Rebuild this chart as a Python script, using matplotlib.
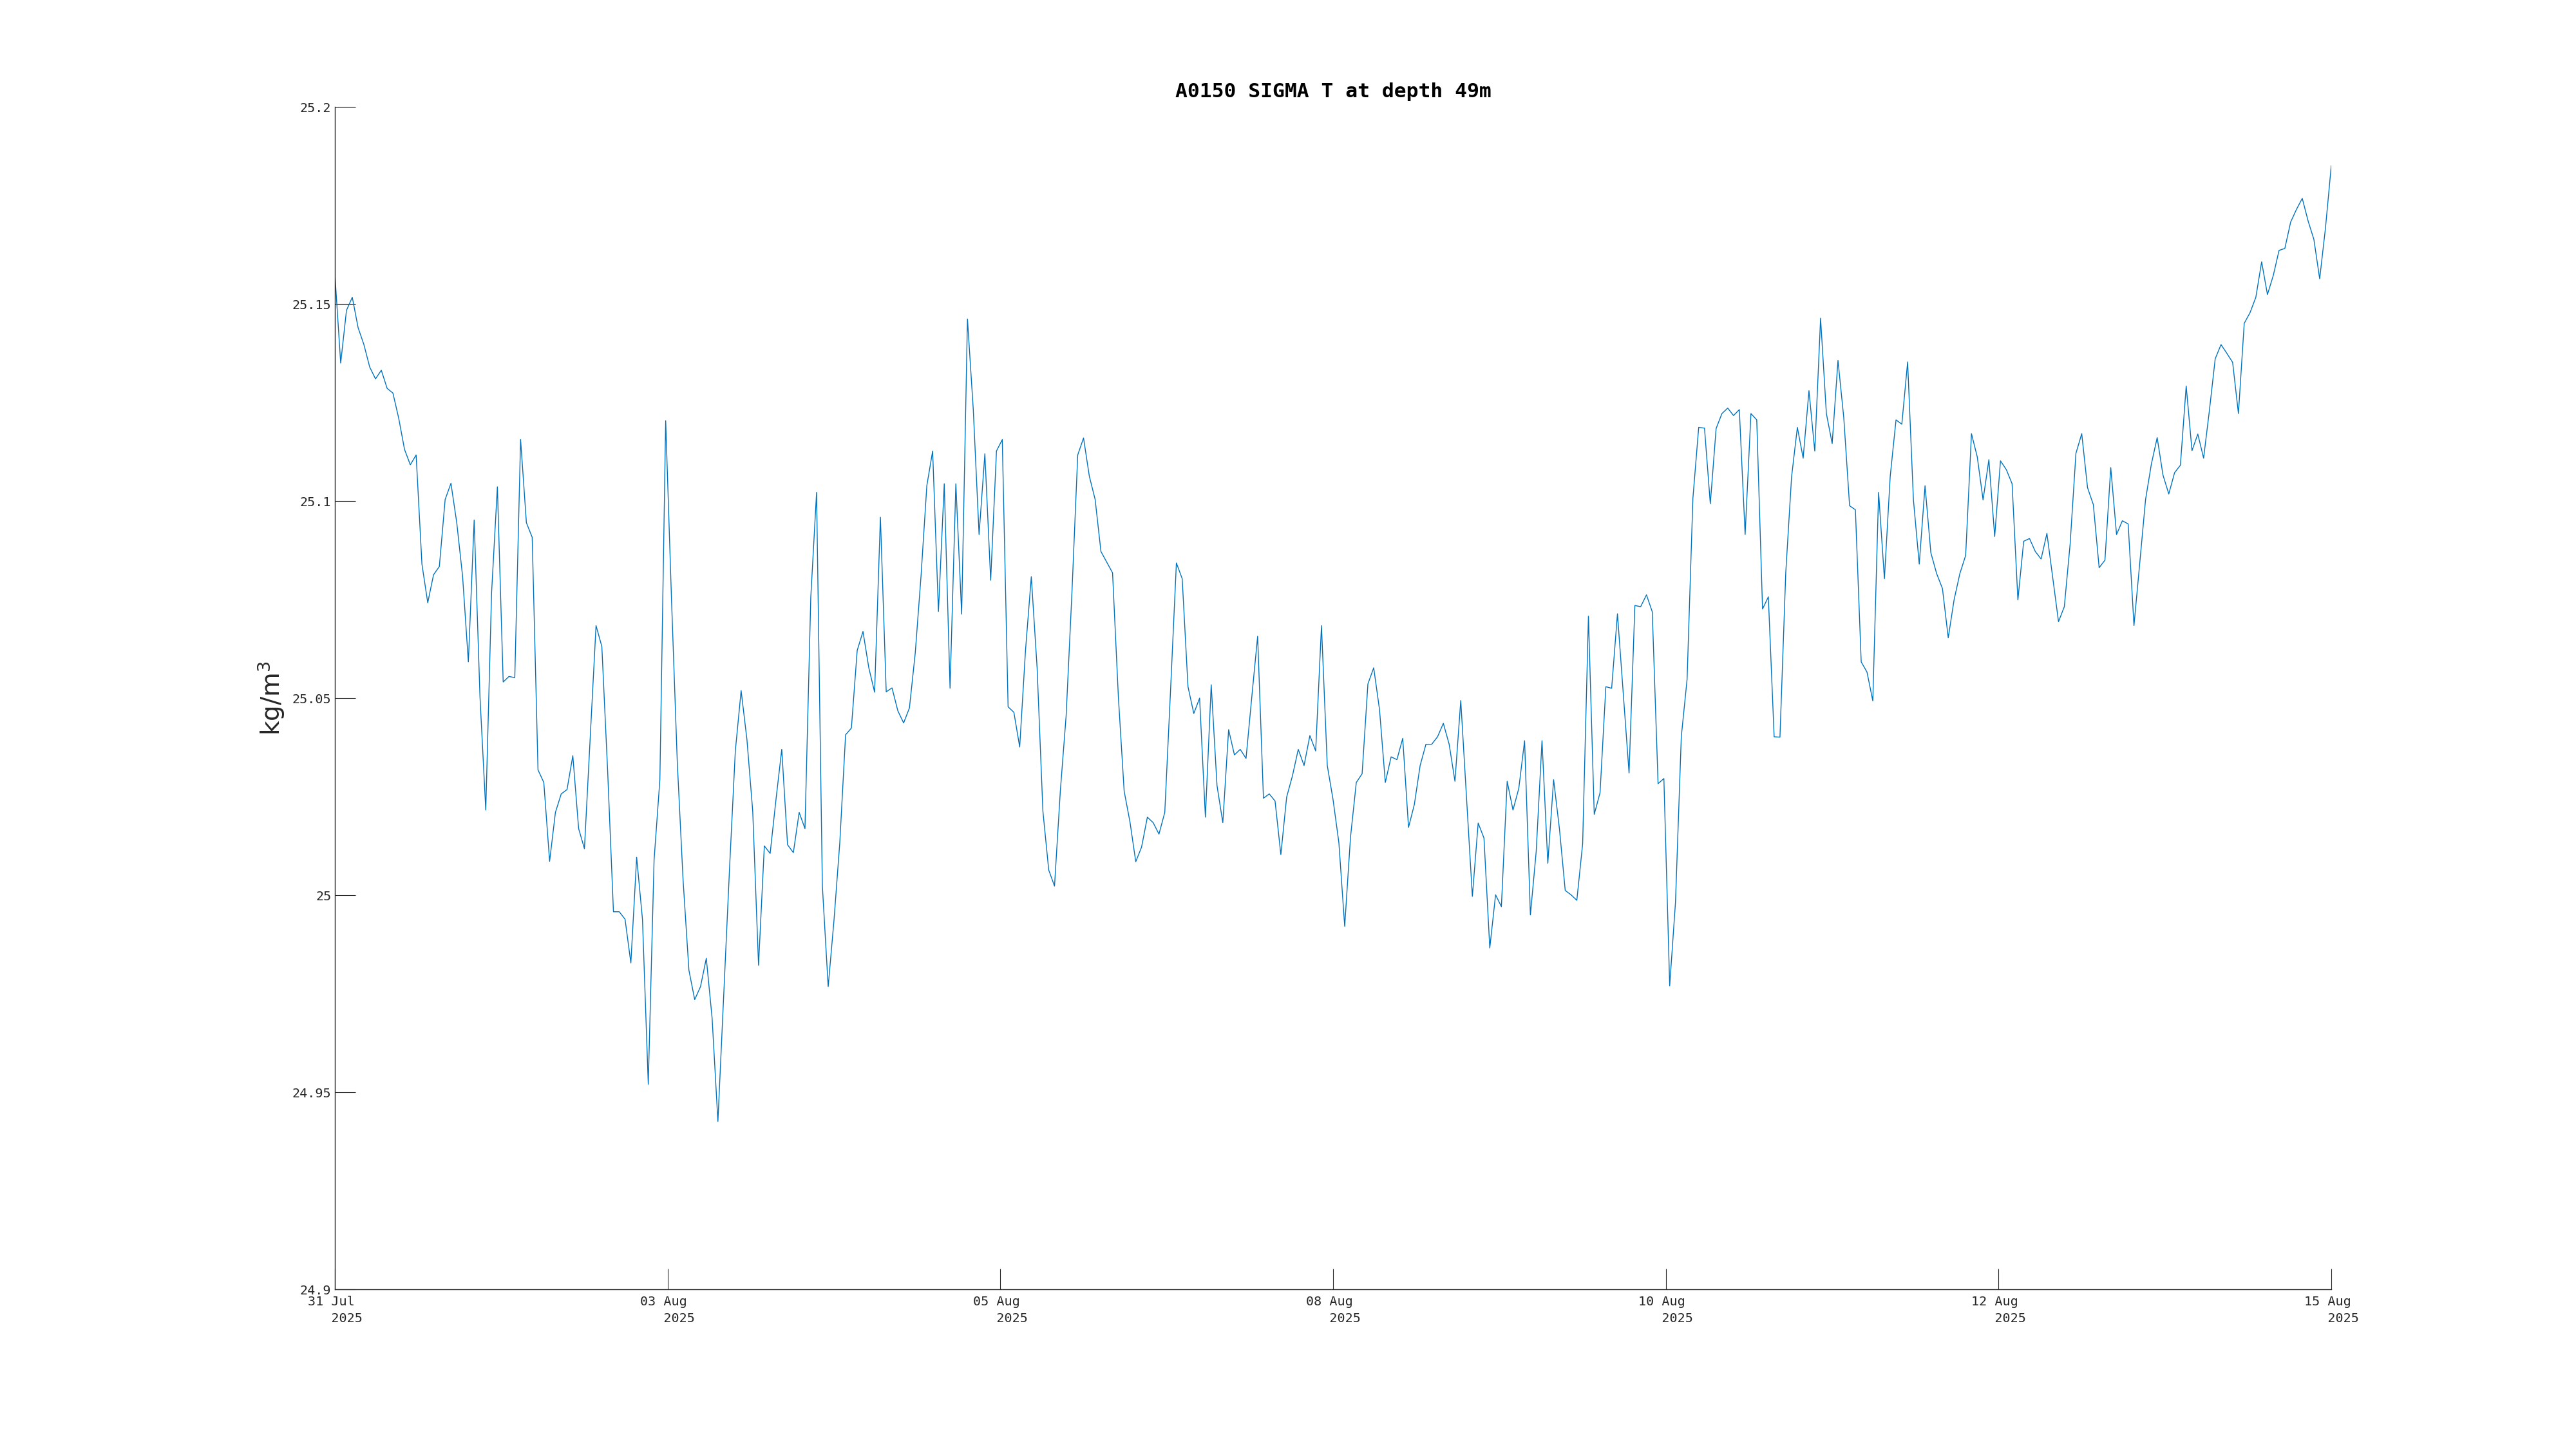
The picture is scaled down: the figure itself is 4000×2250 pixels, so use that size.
import matplotlib
matplotlib.use("Agg")
import matplotlib.pyplot as plt
import matplotlib.dates as mdates
import numpy as np
import pandas as pd

# hourly sigma-t values
sigma_t = [
    25.1576, 25.1350, 25.1484, 25.1517, 25.1440, 25.1397, 25.1340, 25.1310, 25.1332, 25.1286,
    25.1274, 25.1210, 25.1131, 25.1092, 25.1117, 25.0840, 25.0742, 25.0813, 25.0834, 25.1004,
    25.1045, 25.0945, 25.0810, 25.0592, 25.0952, 25.0504, 25.0216, 25.0767, 25.1036, 25.0541,
    25.0555, 25.0552, 25.1156, 25.0945, 25.0908, 25.0318, 25.0286, 25.0086, 25.0210, 25.0257,
    25.0268, 25.0354, 25.0169, 25.0118, 25.0402, 25.0684, 25.0631, 25.0315, 24.9958, 24.9958,
    24.9939, 24.9828, 25.0096, 24.9939, 24.9520, 25.0089, 25.0293, 25.1204, 25.0752, 25.0337,
    25.0038, 24.9810, 24.9735, 24.9768, 24.9840, 24.9688, 24.9426, 24.9746, 25.0067, 25.0366,
    25.0519, 25.0395, 25.0213, 24.9822, 25.0125, 25.0106, 25.0242, 25.0370, 25.0128, 25.0108,
    25.0210, 25.0169, 25.0755, 25.1022, 25.0023, 24.9768, 24.9936, 25.0133, 25.0407, 25.0424,
    25.0621, 25.0669, 25.0577, 25.0515, 25.0959, 25.0516, 25.0526, 25.0468, 25.0437, 25.0475,
    25.0614, 25.0810, 25.1039, 25.1127, 25.0720, 25.1044, 25.0525, 25.1044, 25.0713, 25.1462,
    25.1233, 25.0915, 25.1120, 25.0799, 25.1127, 25.1156, 25.0478, 25.0464, 25.0376, 25.0621,
    25.0808, 25.0577, 25.0213, 25.0064, 25.0023, 25.0264, 25.0455, 25.0767, 25.1117, 25.1160,
    25.1063, 25.1004, 25.0872, 25.0845, 25.0818, 25.0504, 25.0264, 25.0186, 25.0085, 25.0122,
    25.0198, 25.0184, 25.0155, 25.0210, 25.0522, 25.0843, 25.0803, 25.0529, 25.0461, 25.0500,
    25.0198, 25.0534, 25.0278, 25.0184, 25.0420, 25.0356, 25.0370, 25.0347, 25.0504, 25.0657,
    25.0246, 25.0257, 25.0239, 25.0103, 25.0249, 25.0303, 25.0370, 25.0329, 25.0405, 25.0366,
    25.0684, 25.0329, 25.0242, 25.0133, 24.9921, 25.0147, 25.0286, 25.0308, 25.0536, 25.0577,
    25.0471, 25.0286, 25.0351, 25.0344, 25.0398, 25.0172, 25.0230, 25.0329, 25.0383, 25.0383,
    25.0402, 25.0436, 25.0383, 25.0289, 25.0494, 25.0245, 24.9997, 25.0183, 25.0145, 24.9866,
    25.0001, 24.9971, 25.0289, 25.0216, 25.0271, 25.0392, 24.9950, 25.0111, 25.0392, 25.0081,
    25.0293, 25.0169, 25.0012, 25.0001, 24.9987, 25.0130, 25.0708, 25.0205, 25.0260, 25.0529,
    25.0525, 25.0714, 25.0512, 25.0310, 25.0735, 25.0732, 25.0762, 25.0719, 25.0283, 25.0296,
    24.9770, 24.9982, 25.0402, 25.0548, 25.1007, 25.1187, 25.1185, 25.0993, 25.1184, 25.1222,
    25.1236, 25.1217, 25.1232, 25.0915, 25.1222, 25.1206, 25.0726, 25.0757, 25.0402, 25.0401,
    25.0818, 25.1061, 25.1187, 25.1109, 25.1280, 25.1127, 25.1464, 25.1222, 25.1146, 25.1357,
    25.1211, 25.0988, 25.0978, 25.0592, 25.0566, 25.0493, 25.1022, 25.0803, 25.1063, 25.1206,
    25.1195, 25.1353, 25.1003, 25.0840, 25.1039, 25.0869, 25.0816, 25.0778, 25.0653, 25.0749,
    25.0816, 25.0862, 25.1171, 25.1112, 25.1003, 25.1105, 25.0910, 25.1102, 25.1080, 25.1044,
    25.0749, 25.0898, 25.0905, 25.0872, 25.0853, 25.0918, 25.0806, 25.0694, 25.0732, 25.0891,
    25.1121, 25.1171, 25.1034, 25.0991, 25.0831, 25.0850, 25.1085, 25.0915, 25.0950, 25.0942,
    25.0684, 25.0843, 25.1004, 25.1094, 25.1161, 25.1066, 25.1018, 25.1072, 25.1091, 25.1292,
    25.1128, 25.1170, 25.1109, 25.1230, 25.1361, 25.1397, 25.1375, 25.1352, 25.1222, 25.1451,
    25.1478, 25.1517, 25.1607, 25.1524, 25.1572, 25.1636, 25.1641, 25.1708, 25.1740, 25.1768,
    25.1711, 25.1664, 25.1564, 25.1693, 25.1851,
]

start_time = "2025-07-31 10:00"
tick_days = ["31 Jul", "03 Aug", "05 Aug", "08 Aug", "10 Aug", "12 Aug", "15 Aug"]
tick_year = "2025"
ytick_vals = [24.9, 24.95, 25.0, 25.05, 25.1, 25.15, 25.2]
ytick_labels = ["24.9", "24.95", "25", "25.05", "25.1", "25.15", "25.2"]

times = pd.date_range(start_time, periods=len(sigma_t), freq="h")

axcol = "#262626"
mono = "DejaVu Sans Mono"

fig = plt.figure(figsize=(40, 22.5), dpi=100)
ax = fig.add_axes([0.13, 0.1102, 0.775, 0.8160])

ax.plot(times, sigma_t, color="#0072BD", linewidth=1.0)

ax.set_xlim(times[0], times[-1])
ax.set_ylim(24.9, 25.2)

t0 = mdates.date2num(times[0])
t1 = mdates.date2num(times[-1])
xticks = np.linspace(t0, t1, len(tick_days))
xlabels = [d + "\n   " + tick_year for d in tick_days]
ax.set_xticks(xticks)
ax.set_xticklabels(xlabels, fontfamily=mono, fontsize=14.5, color=axcol,
                   linespacing=1.45, multialignment="left")
ax.set_yticks(ytick_vals)
ax.set_yticklabels(ytick_labels, fontfamily=mono, fontsize=14.5, color=axcol)

ax.tick_params(direction="in", length=23, width=0.8, color=axcol, pad=4)
ax.tick_params(axis="x", pad=7)
for side in ["top", "right"]:
    ax.spines[side].set_visible(False)
for side in ["left", "bottom"]:
    ax.spines[side].set_color(axcol)
    ax.spines[side].set_linewidth(1.0)

ax.set_ylabel("kg/m$^3$", fontsize=28, fontfamily="DejaVu Sans", color=axcol, labelpad=6)
ax.set_title("A0150 SIGMA T at depth 49m", fontsize=22.6, fontweight="bold",
             fontfamily=mono, pad=11)

fig.savefig("out.png", dpi=100)
plt.close(fig)
